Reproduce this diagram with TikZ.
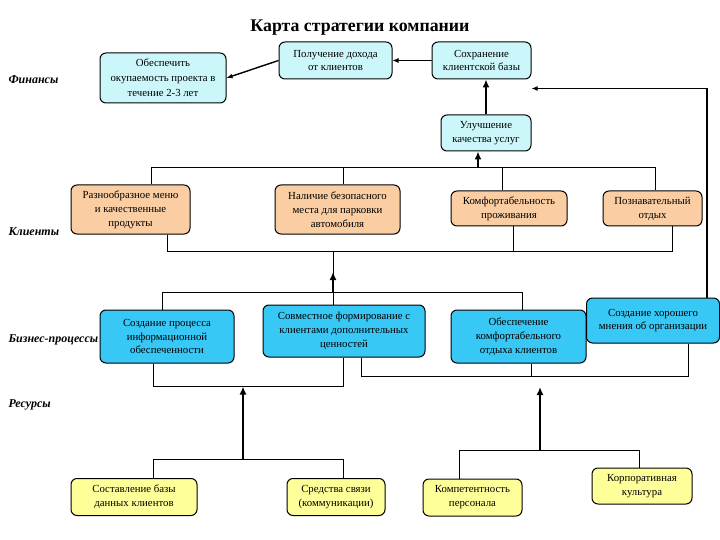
\documentclass[tikz,border=0pt]{standalone}
\usepackage{fontspec}
\setmainfont{Liberation Serif}
\usepackage{xcolor}
\usetikzlibrary{arrows.meta}

\definecolor{finfill}{RGB}{204,247,250}
\definecolor{clifill}{RGB}{250,206,162}
\definecolor{procfill}{RGB}{56,200,246}
\definecolor{resfill}{RGB}{255,255,153}

\begin{document}
\begin{tikzpicture}[
  x=1pt, y=-1pt, >={Latex[length=6pt,width=5pt]},
  box/.style={draw, line width=1pt, rounded corners=6pt, align=center,
              inner sep=1pt, font=\fontsize{10.8}{13.8}\selectfont},
  fin/.style={box, fill=finfill},
  cli/.style={box, fill=clifill},
  proc/.style={box, fill=procfill},
  res/.style={box, fill=resfill},
  lvl/.style={anchor=west, font=\fontsize{12}{13}\selectfont\bfseries\itshape},
  link/.style={line width=0.9pt},
  flow/.style={line width=2.8pt, -{Latex[length=8pt,width=7pt]}}
]
\useasboundingbox (0,0) rectangle (720,540);

\node[font=\fontsize{17.8}{19}\selectfont\bfseries] (title) at (360,28) {Карта стратегии компании};

% levels
\node[lvl] (lfin) at (5,80) {Финансы};
\node[lvl] (lcli) at (5,232) {Клиенты};
\node[lvl] (lproc) at (5,340) {Бизнес-процессы};
\node[lvl] (lres) at (5,405) {Ресурсы};

% finances
\node[fin, minimum width=126, minimum height=50, font=\fontsize{10.8}{15}\selectfont] (f1) at (163,78) {Обеспечить\\окупаемость проекта в\\течение 2-3 лет};
\node[fin, minimum width=113, minimum height=37] (f2) at (335.5,60.5) {Получение дохода\\от клиентов};
\node[fin, minimum width=99, minimum height=37] (f3) at (481.5,60.5) {Сохранение\\клиентской базы};
\node[fin, minimum width=90, minimum height=36] (u) at (486,133) {Улучшение\\качества услуг};

% clients
\node[cli, minimum width=119, minimum height=49] (c1) at (130.5,209.5) {Разнообразное меню\\и качественные\\продукты};
\node[cli, minimum width=125, minimum height=49] (c2) at (337.5,209.5) {Наличие безопасного\\места для парковки\\автомобиля};
\node[cli, minimum width=116, minimum height=35] (c3) at (509,208.5) {Комфортабельность\\проживания};
\node[cli, minimum width=99, minimum height=35] (c4) at (652.5,208.5) {Познавательный\\отдых};

% processes
\node[proc, minimum width=134, minimum height=53] (p1) at (167,336.5) {Создание процесса\\информационной\\обеспеченности};
\node[proc, minimum width=162, minimum height=52] (p2) at (344,331) {Совместное формирование с\\клиентами дополнительных\\ценностей};
\node[proc, minimum width=135, minimum height=53] (p3) at (518.5,336.5) {Обеспечение\\комфортабельного\\отдыха клиентов};
\node[proc, minimum width=133, minimum height=45] (p4) at (653,320.5) {Создание хорошего\\мнения об организации};

% resources
\node[res, minimum width=126, minimum height=37] (r1) at (134,497) {Составление базы\\данных клиентов};
\node[res, minimum width=98, minimum height=37] (r2) at (336,497) {Средства связи\\(коммуникации)};
\node[res, minimum width=99, minimum height=37] (r3) at (472.5,497.5) {Компетентность\\персонала};
\node[res, minimum width=100, minimum height=36] (r4) at (642,486) {Корпоративная\\культура};

% finance links
\draw[link, line width=1.4pt, ->] (f2.west) -- (f1.east);
\draw[link, ->] (f3.west) -- (f2.east);
\draw[flow] (u.north) -- (u.north |- f3.south);
\draw[link, line width=1.3pt, ->] ([xshift=54pt]p4.north) |- ([yshift=-9pt]f3.south east);

% clients brackets
\draw[link] ([xshift=20.5pt]c1.north) |- ([xshift=2.5pt]c4.north |- 0,167) -- ([xshift=2.5pt]c4.north);
\draw[link] ([xshift=5.5pt]c2.north) -- ([xshift=5.5pt]c2.north |- 0,167);
\draw[link] ([xshift=-7pt]c3.north) -- ([xshift=-7pt]c3.north |- 0,167);
\draw[flow] ([xshift=-8pt]u.south |- 0,167) -- ([xshift=-8pt]u.south);
\draw[link] ([xshift=36.5pt]c1.south) |- ([xshift=19.5pt]c4.south |- 0,251) -- ([xshift=19.5pt]c4.south);
\draw[link] ([xshift=4pt]c3.south) -- ([xshift=4pt]c3.south |- 0,251);

% processes brackets
\coordinate (ptop) at (333,292);
\draw[link] ([xshift=-11pt]p2.north) -- ([xshift=-11pt]p2.north |- 0,251);
\draw[link] ([xshift=-5pt]p1.north) |- ([xshift=3.5pt]p3.north |- ptop) -- ([xshift=3.5pt]p3.north);
\draw[flow] (ptop) -- ++(0,-20);
\draw[link] ([xshift=-14pt]p1.south) |- ([xshift=-1pt]p2.south |- 0,386) -- ([xshift=-1pt]p2.south);
\draw[link] ([xshift=17pt]p2.south) |- ([xshift=35pt]p4.south |- 0,376) -- ([xshift=35pt]p4.south);
\draw[link] ([xshift=12.5pt]p3.south) -- ([xshift=12.5pt]p3.south |- 0,376);

% resources brackets
\coordinate (rb1) at (243,459);
\coordinate (rb2) at (540,450);
\draw[link] ([xshift=19pt]r1.north) |- ([xshift=7pt]r2.north |- rb1) -- ([xshift=7pt]r2.north);
\draw[flow] (rb1) -- (rb1 |- 0,386.5);
\draw[link] ([xshift=-13.5pt]r3.north) |- ([xshift=-3pt]r4.north |- rb2) -- ([xshift=-3pt]r4.north);
\draw[flow] (rb2) -- (rb2 |- 0,387);
\end{tikzpicture}
\end{document}
